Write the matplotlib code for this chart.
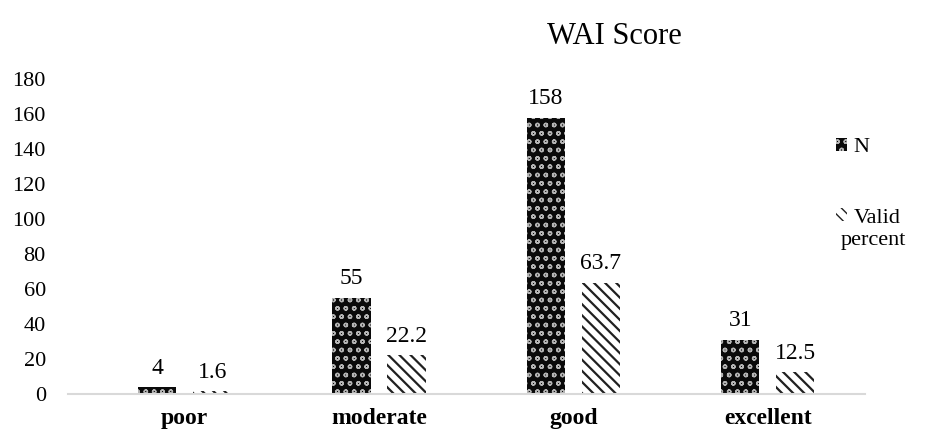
import matplotlib.pyplot as plt
import numpy as np

# 데이터
categories = ['poor', 'moderate', 'good', 'excellent']
n_values = [4, 55, 158, 31]
valid_percent = [1.6, 22.2, 63.7, 12.5]
n_labels = ['4', '55', '158', '31']
pct_labels = ['1.6', '22.2', '63.7', '12.5']
y_ticks = [0, 20, 40, 60, 80, 100, 120, 140, 160, 180]

plt.rcParams['font.family'] = ['Liberation Serif', 'DejaVu Serif']
plt.rcParams['hatch.linewidth'] = 1.0

fig = plt.figure(figsize=(9.3, 4.29), dpi=100)
# 축 위치 (픽셀 기준으로 맞춤)
ax = fig.add_axes([68 / 930, 1 - 394 / 429, (865 - 68) / 930, (394 - 79) / 429])

x = np.arange(len(categories))
w = 0.196
off = 0.1415

bars_n = ax.bar(x - off, n_values, w, color='#0a0a0a', edgecolor='#b4b4b4',
                hatch='oo', linewidth=0, label='N')
bars_p = ax.bar(x + off, valid_percent, w, color='white', edgecolor='#202020',
                hatch='\\\\\\', linewidth=0, label='Valid')

# 줄무늬 두께는 막대별로 (가능하면)
for b in bars_p:
    if hasattr(b, 'set_hatch_linewidth'):
        b.set_hatch_linewidth(1.6)

# 값 라벨
for b, t in zip(bars_n, n_labels):
    ax.annotate(t, (b.get_x() + b.get_width() / 2, b.get_height()),
                xytext=(0, 6), textcoords='offset points',
                ha='center', va='bottom', fontsize=17)
for b, t in zip(bars_p, pct_labels):
    ax.annotate(t, (b.get_x() + b.get_width() / 2, b.get_height()),
                xytext=(0, 6), textcoords='offset points',
                ha='center', va='bottom', fontsize=17)

ax.set_xlim(-0.6, 3.5)
ax.set_ylim(0, 180)
ax.set_yticks(y_ticks)
ax.set_xticks(x)
ax.set_xticklabels(categories, fontsize=17, fontweight='bold')
ax.tick_params(axis='y', length=0, pad=16, labelsize=16)
ax.tick_params(axis='x', length=0, pad=10)

for s in ['top', 'right', 'left']:
    ax.spines[s].set_visible(False)
ax.spines['bottom'].set_color('#d9d9d9')
ax.spines['bottom'].set_linewidth(1.5)

# 제목
fig.text(614 / 930, 1 - 36 / 429, 'WAI Score', ha='center', va='center', fontsize=22)

# 범례
leg = fig.legend(loc='upper left', bbox_to_anchor=(836 / 930, 1 - 138 / 429),
                 frameon=False, fontsize=16, handlelength=0.5, handleheight=0.5,
                 handletextpad=0.3, labelspacing=2.3, borderaxespad=0, borderpad=0)
fig.text(841 / 930, 1 - 241 / 429, 'percent', ha='left', va='center', fontsize=16)

plt.savefig('out.png', dpi=100)
